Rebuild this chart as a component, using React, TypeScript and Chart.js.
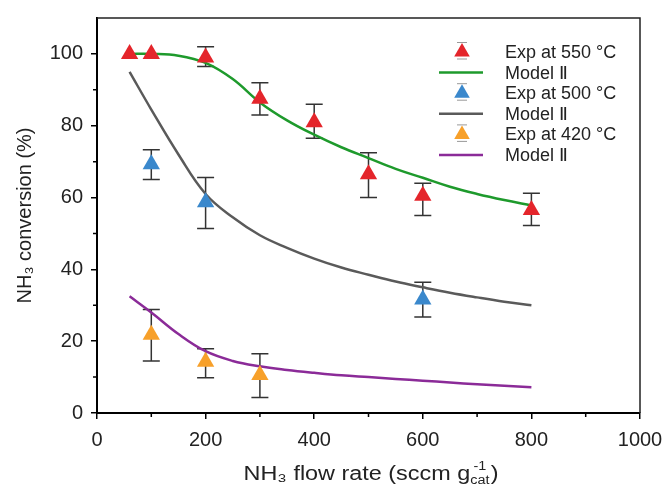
import React, { useEffect, useRef } from "react";
import { Chart, registerables } from "chart.js";

Chart.register(...registerables);

// Experimental data
const flow550 = [60, 100, 200, 300, 400, 500, 600, 800];
const conv550 = [100, 100, 99, 87.5, 81, 66.5, 60.5, 56.5];
const err550Hi = [null, null, 102, 92, 86, 72.5, 64, 61.2];
const err550Lo = [null, null, 96.5, 83, 76.5, 60, 55, 52.2];

const flow500 = [100, 200, 600];
const conv500 = [69.3, 58.7, 31.6];
const err500Hi = [73.3, 65.6, 36.4];
const err500Lo = [65, 51.4, 26.7];

const flow420 = [100, 200, 300];
const conv420 = [21.8, 14.3, 10.6];
const err420Hi = [28.8, 17.9, 16.5];
const err420Lo = [14.5, 9.8, 4.3];

// Model curves
const modelFlow = [60, 100, 150, 200, 250, 300, 350, 400, 450, 500, 550, 600, 650, 700, 750, 800];
const model550 = [100, 100, 99.5, 97.5, 93, 86.5, 81.5, 77.5, 74, 71, 68, 65.5, 63, 61, 59.3, 57.8];
const model500 = [95, 84.5, 72, 61, 54.5, 49.5, 46, 43, 40.5, 38.5, 36.6, 35, 33.5, 32.2, 31, 30];
const model420 = [32.5, 28, 22, 17.2, 14.5, 13, 12, 11.2, 10.5, 10, 9.5, 9, 8.5, 8, 7.6, 7.2];

const labels = ["Exp at 550 °C", "Model Ⅱ", "Exp at 500 °C", "Model Ⅱ", "Exp at 420 °C", "Model Ⅱ"];

const xTicks = [0, 200, 400, 600, 800, 1000];
const yTicks = [0, 20, 40, 60, 80, 100];
const xMinor = [100, 300, 500, 700, 900];
const yMinor = [10, 30, 50, 70, 90];

const RED = "#e4252b";
const BLUE = "#3a88cc";
const ORANGE = "#f7a02a";
const GREEN = "#1e9a2c";
const GRAY = "#5a5a5a";
const PURPLE = "#8b2b98";
const FONT = '"Liberation Sans", Arial, sans-serif';

const pts = (xs: number[], ys: number[]) => xs.map((x, i) => ({ x, y: ys[i] }));

export default function App() {
  const ref = useRef<HTMLCanvasElement | null>(null);

  useEffect(() => {
    if (!ref.current) return;
    const errs: Record<number, { hi: (number | null)[]; lo: (number | null)[] }> = {
      0: { hi: err550Hi, lo: err550Lo },
      2: { hi: err500Hi, lo: err500Lo },
      4: { hi: err420Hi, lo: err420Lo },
    };

    const errorBars = {
      id: "errorBars",
      beforeDatasetsDraw(chart: any) {
        const ctx = chart.ctx;
        const xs = chart.scales.x;
        const ys = chart.scales.y;
        ctx.save();
        ctx.strokeStyle = "#333";
        ctx.lineWidth = 1.5;
        Object.keys(errs).forEach((k) => {
          const di = Number(k);
          const ds = chart.data.datasets[di];
          ds.data.forEach((p: any, i: number) => {
            const hi = errs[di].hi[i];
            const lo = errs[di].lo[i];
            if (hi == null || lo == null) return;
            const px = xs.getPixelForValue(p.x);
            const yh = ys.getPixelForValue(hi);
            const yl = ys.getPixelForValue(lo);
            ctx.beginPath();
            ctx.moveTo(px, yh);
            ctx.lineTo(px, yl);
            ctx.moveTo(px - 8.5, yh);
            ctx.lineTo(px + 8.5, yh);
            ctx.moveTo(px - 8.5, yl);
            ctx.lineTo(px + 8.5, yl);
            ctx.stroke();
          });
        });
        ctx.restore();
      },
    };

    const decor = {
      id: "decor",
      afterDraw(chart: any) {
        const ctx = chart.ctx;
        const a = chart.chartArea;
        const xs = chart.scales.x;
        const ys = chart.scales.y;
        ctx.save();
        // frame top/right
        ctx.strokeStyle = "#222";
        ctx.lineWidth = 1.5;
        ctx.beginPath();
        ctx.moveTo(a.left, a.top);
        ctx.lineTo(a.right, a.top);
        ctx.lineTo(a.right, a.bottom);
        ctx.stroke();
        // minor ticks
        ctx.strokeStyle = "#000";
        ctx.lineWidth = 1.5;
        ctx.beginPath();
        xMinor.forEach((v) => {
          const px = xs.getPixelForValue(v);
          ctx.moveTo(px, a.bottom);
          ctx.lineTo(px, a.bottom + 4);
        });
        yMinor.forEach((v) => {
          const py = ys.getPixelForValue(v);
          ctx.moveTo(a.left, py);
          ctx.lineTo(a.left - 4, py);
        });
        ctx.stroke();

        // x title with sub/superscript (slightly stretched horizontally like the original)
        const main = "NH₃ flow rate (sccm g";
        const sup = "-1";
        const sub = "cat";
        const close = ")";
        const sx = 1.2;
        ctx.fillStyle = "#222";
        ctx.textBaseline = "alphabetic";
        ctx.textAlign = "left";
        ctx.font = `19.5px ${FONT}`;
        const wMain = ctx.measureText(main).width;
        const wClose = ctx.measureText(close).width;
        ctx.font = `12px ${FONT}`;
        const wSup = ctx.measureText(sup).width;
        const wSub = ctx.measureText(sub).width;
        const total = (wMain + Math.max(wSup, wSub) + 1 + wClose) * sx;
        const cx = 371;
        const base = 480;
        ctx.translate(cx - total / 2, base);
        ctx.scale(sx, 1);
        let x0 = 0;
        ctx.font = `19.5px ${FONT}`;
        ctx.fillText(main, x0, 0);
        x0 += wMain;
        ctx.font = `12px ${FONT}`;
        ctx.fillText(sup, x0 + (wSub - wSup) / 2, -10);
        ctx.fillText(sub, x0, 4);
        x0 += Math.max(wSup, wSub) + 1;
        ctx.font = `19.5px ${FONT}`;
        ctx.fillText(close, x0, 0);
        ctx.setTransform(1, 0, 0, 1, 0, 0);

        // legend
        const lx0 = 439;
        const lx1 = 483;
        const icx = 462;
        const tx = 505;
        ctx.font = `18px ${FONT}`;
        ctx.textBaseline = "middle";
        chart.data.datasets.forEach((ds: any, i: number) => {
          const y = 52 + i * 20.6;
          if (i % 2 === 0) {
            const r = 9;
            ctx.fillStyle = ds.backgroundColor;
            ctx.beginPath();
            ctx.moveTo(icx, y - r);
            ctx.lineTo(icx + r * 0.866, y + r * 0.5);
            ctx.lineTo(icx - r * 0.866, y + r * 0.5);
            ctx.closePath();
            ctx.fill();
            ctx.strokeStyle = "#999";
            ctx.lineWidth = 1;
            ctx.beginPath();
            ctx.moveTo(icx - 5, y - 9.5);
            ctx.lineTo(icx + 5, y - 9.5);
            ctx.moveTo(icx - 5, y + 7);
            ctx.lineTo(icx + 5, y + 7);
            ctx.stroke();
          } else {
            ctx.strokeStyle = ds.borderColor;
            ctx.lineWidth = 2.5;
            ctx.beginPath();
            ctx.moveTo(lx0, y);
            ctx.lineTo(lx1, y);
            ctx.stroke();
          }
          ctx.fillStyle = "#222";
          ctx.fillText(ds.label, tx, y + 1);
        });
        ctx.restore();
      },
    };

    const expDs = (label: string, xs: number[], ys: number[], color: string) => ({
      label,
      data: pts(xs, ys),
      backgroundColor: color,
      borderColor: color,
      pointStyle: "triangle",
      pointRadius: 10,
      pointBorderWidth: 0,
      showLine: false,
      order: 1,
    });
    const modelDs = (label: string, ys: number[], color: string) => ({
      label,
      data: pts(modelFlow, ys),
      borderColor: color,
      backgroundColor: color,
      borderWidth: 2.5,
      pointRadius: 0,
      showLine: true,
      tension: 0.4,
      order: 2,
    });

    const chart = new Chart(ref.current, {
      type: "scatter",
      data: {
        datasets: [
          expDs(labels[0], flow550, conv550, RED),
          modelDs(labels[1], model550, GREEN),
          expDs(labels[2], flow500, conv500, BLUE),
          modelDs(labels[3], model500, GRAY),
          expDs(labels[4], flow420, conv420, ORANGE),
          modelDs(labels[5], model420, PURPLE),
        ] as any,
      },
      options: {
        animation: false,
        responsive: false,
        maintainAspectRatio: false,
        layout: { padding: { top: 18, right: 27, left: 0, bottom: 0 } },
        plugins: { legend: { display: false }, tooltip: { enabled: false } },
        scales: {
          x: {
            type: "linear",
            min: 0,
            max: 1000,
            afterBuildTicks: (s: any) => {
              s.ticks = xTicks.map((v) => ({ value: v }));
            },
            afterFit: (s: any) => {
              s.height = 76;
              s.paddingLeft = 0;
              s.paddingRight = 0;
            },
            ticks: {
              color: "#222",
              font: { family: FONT, size: 20 },
              padding: 9,
              maxRotation: 0,
              callback: (v: any) => String(v),
            },
            grid: { drawOnChartArea: false, drawTicks: true, tickLength: 6, color: "#000", lineWidth: 1.5 },
            border: { color: "#000", width: 2 },
          },
          y: {
            type: "linear",
            min: 0,
            max: 110,
            afterBuildTicks: (s: any) => {
              s.ticks = yTicks.map((v) => ({ value: v }));
            },
            afterFit: (s: any) => {
              s.width = 97;
              s.paddingTop = 0;
              s.paddingBottom = 0;
            },
            ticks: {
              color: "#222",
              font: { family: FONT, size: 20 },
              padding: 8,
              callback: (v: any) => String(v),
            },
            grid: { drawOnChartArea: false, drawTicks: true, tickLength: 6, color: "#000", lineWidth: 1.5 },
            border: { color: "#000", width: 2 },
            title: {
              display: true,
              text: "NH₃ conversion (%)",
              color: "#222",
              font: { family: FONT, size: 20 },
              padding: { top: 13, bottom: 0 },
            },
          },
        },
      } as any,
      plugins: [errorBars, decor],
    });
    return () => chart.destroy();
  }, []);

  return (
    <div style={{ position: "fixed", left: 0, top: 0, width: 667, height: 489, background: "#fff" }}>
      <canvas ref={ref} width={667} height={489} style={{ width: 667, height: 489 }} />
    </div>
  );
}
